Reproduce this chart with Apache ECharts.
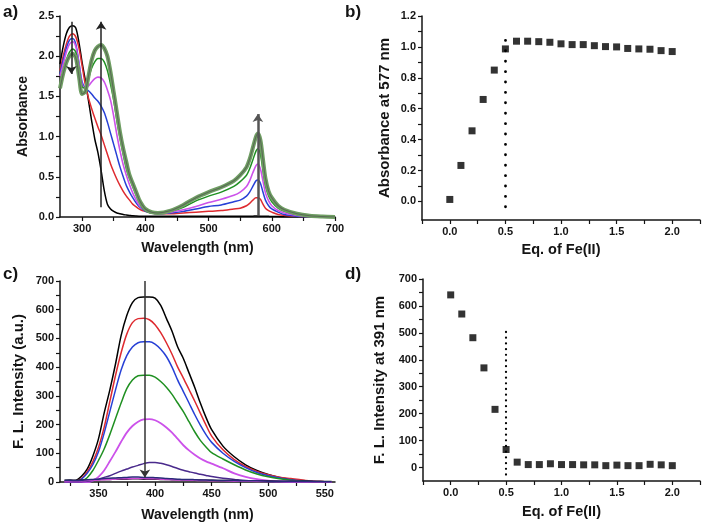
<!DOCTYPE html>
<html><head><meta charset="utf-8">
<script src="https://cdn.jsdelivr.net/npm/echarts@6/dist/echarts.min.js"></script>
<style>html,body{margin:0;padding:0;background:#fff}#c{width:704px;height:529px}</style>
</head><body><div id="c"></div>
<script>
// ---------- Panel a: UV-vis absorbance ----------
const wlA = [265,270,275,280,285,290,295,300,305,310,315,320,325,330,335,340,345,350,355,360,365,370,375,380,385,390,395,400,410,420,440,460,480,500,520,540,550,560,565,570,575,578,582,586,590,595,600,610,620,640,660,680,700];
const absBlack = [1.9,2.12,2.28,2.36,2.38,2.35,2.17,1.92,1.7,1.45,1.2,0.97,0.8,0.58,0.33,0.16,0.1,0.07,0.05,0.04,0.03,0.025,0.02,0.015,0.012,0.01,0.01,0.01,0.01,0.01,0.01,0.01,0.01,0.01,0.01,0.01,0.01,0.01,0.01,0.01,0.012,0.012,0.01,0.01,0.01,0.008,0.006,0.005,0.004,0.003,0.002,0.001,0];
const absRed = [1.82,2.0,2.15,2.25,2.28,2.24,2.1,1.88,1.65,1.48,1.35,1.23,1.12,1.02,0.9,0.78,0.66,0.56,0.47,0.39,0.32,0.26,0.21,0.16,0.13,0.1,0.08,0.07,0.05,0.04,0.04,0.05,0.06,0.07,0.08,0.1,0.11,0.14,0.17,0.21,0.24,0.24,0.22,0.16,0.11,0.08,0.06,0.03,0.02,0.01,0.005,0,0];
const absBlue = [1.78,1.95,2.1,2.2,2.22,2.15,1.92,1.68,1.6,1.57,1.53,1.48,1.44,1.38,1.3,1.18,1.04,0.9,0.76,0.62,0.5,0.39,0.31,0.24,0.18,0.13,0.1,0.07,0.05,0.04,0.05,0.07,0.1,0.13,0.15,0.19,0.21,0.26,0.31,0.38,0.45,0.46,0.42,0.31,0.21,0.14,0.1,0.06,0.03,0.01,0.003,0,0];
const absMagenta = [1.75,1.9,2.05,2.15,2.18,2.12,1.9,1.65,1.6,1.63,1.68,1.72,1.74,1.73,1.68,1.58,1.45,1.25,1.02,0.82,0.65,0.52,0.4,0.3,0.22,0.15,0.11,0.08,0.05,0.04,0.06,0.09,0.13,0.18,0.22,0.27,0.31,0.38,0.45,0.55,0.64,0.66,0.6,0.45,0.3,0.2,0.14,0.08,0.05,0.02,0.005,0,0];
const absGreen = [1.65,1.8,1.95,2.05,2.09,2.05,1.85,1.62,1.6,1.72,1.85,1.93,1.97,1.97,1.93,1.82,1.65,1.45,1.2,0.98,0.78,0.6,0.48,0.38,0.28,0.19,0.12,0.08,0.05,0.05,0.07,0.12,0.2,0.26,0.31,0.38,0.44,0.52,0.6,0.71,0.82,0.85,0.78,0.58,0.39,0.26,0.19,0.11,0.07,0.03,0.01,0,0];
const absSat = [1.6,1.78,1.92,2.0,2.03,1.98,1.75,1.53,1.56,1.75,1.95,2.07,2.12,2.14,2.1,2.0,1.8,1.55,1.3,1.05,0.85,0.68,0.52,0.42,0.32,0.22,0.15,0.1,0.06,0.05,0.08,0.15,0.24,0.31,0.37,0.45,0.52,0.62,0.72,0.86,1.0,1.04,0.96,0.72,0.48,0.32,0.24,0.14,0.09,0.04,0.015,0.005,0];
// arrows: [wavelength, from, to]
const arrowsA = [[283, 2.43, 1.78], [330, 0.12, 2.43], [578, 0.02, 1.28]];
const aXTicks = [300,350,400,450,500,550,600,650,700];
const aXLabels = [300,400,500,600,700];
const aYTicks = [0,0.25,0.5,0.75,1,1.25,1.5,1.75,2,2.25,2.5];
const aYLabels = [0,0.5,1,1.5,2,2.5];

// ---------- Panel b / d: titration ----------
const eqFe = [0,0.1,0.2,0.3,0.4,0.5,0.6,0.7,0.8,0.9,1.0,1.1,1.2,1.3,1.4,1.5,1.6,1.7,1.8,1.9,2.0];
const abs577 = [0.013,0.233,0.457,0.66,0.85,0.987,1.037,1.037,1.034,1.03,1.02,1.015,1.015,1.008,1.002,1.0,0.99,0.987,0.985,0.976,0.97];
const fl391 = [641,570,482,370,216,67,20,11,11,14,11,11,10,10,7,9,7,7,12,10,7];
const bDivider = [0.5, -0.035, 1.085];
const dDivider = [0.5, -26, 508];
const eqTicks = [-0.25,0,0.25,0.5,0.75,1,1.25,1.5,1.75,2,2.25];
const eqLabels = [0,0.5,1,1.5,2];
const bYTicks = [0,0.1,0.2,0.3,0.4,0.5,0.6,0.7,0.8,0.9,1.0,1.1,1.2];
const bYLabels = [0,0.2,0.4,0.6,0.8,1.0,1.2];
const flTicks = [0,50,100,150,200,250,300,350,400,450,500,550,600,650,700];
const flLabels = [0,100,200,300,400,500,600,700];

// ---------- Panel c: fluorescence ----------
const wlC = [320,325,330,335,340,345,350,355,360,365,370,375,380,385,390,395,400,405,410,415,420,425,430,435,440,445,450,460,470,480,490,500,510,520,530,540,550,556];
const flBlack = [0,1,5,20,45,90,150,240,320,410,510,580,625,642,644,644,640,615,570,525,470,430,380,330,275,225,182,125,88,60,40,26,16,9,5,2,1,0];
const flRed = [0,1,3,12,35,70,120,190,280,370,450,515,555,569,570,565,548,520,485,445,400,362,322,282,240,198,160,112,78,54,37,25,17,12,7,3,1,0];
const flBlue = [0,0,2,10,30,60,105,170,245,320,390,440,470,485,488,488,480,462,437,400,355,315,275,235,198,165,138,100,72,50,33,22,14,8,4,2,0,0];
const flGreen = [0,0,0,3,15,40,75,115,165,220,275,325,355,370,372,372,365,350,330,305,275,245,210,175,145,122,102,80,60,42,28,18,11,6,3,1,0,0];
const flMagenta = [0,0,0,0,0,5,18,40,72,105,140,172,195,210,218,219,215,205,190,172,150,128,110,95,82,72,64,48,30,18,10,5,2,0,0,0,0,0];
const flPurple = [0,0,0,0,2,5,10,16,22,30,38,45,52,58,64,68,68,65,60,54,47,41,36,31,27,23,19,13,9,5,3,1,0,0,0,0,0,0];
const flLowNavy = [5,6,5,6,8,9,10,12,13,14,15,16,17,17,16,16,15,14,12,11,10,9,9,8,7,7,6,5,5,4,4,3,3,3,2,2,1,1];
const flLowPink = [3,4,4,4,5,6,7,8,9,10,11,11,12,12,12,11,11,10,9,8,7,7,6,6,5,5,4,4,3,3,2,2,2,2,1,1,1,0];
const flLowBlack = [6,7,6,7,7,8,8,9,9,10,10,10,11,11,10,10,10,9,9,8,8,8,7,7,7,6,6,5,5,4,4,4,3,3,3,2,2,2];
const arrowC = [391, 700, 16];
const cXTicks = [325,350,375,400,425,450,475,500,525,550];
const cXLabels = [350,400,450,500,550];

// ---------- build ----------
const FF = '"Liberation Sans", Arial, Helvetica, sans-serif';
const TXT = '#141414';
const zip = (xs, ys) => xs.map((x, i) => [x, ys[i]]);

function axis(gi, min, max, ticks, labels, name, gap, nameSize, dec) {
  return {
    type: 'value', gridIndex: gi, min: min, max: max,
    name: name, nameLocation: 'middle', nameGap: gap,
    nameTextStyle: {fontWeight: 'bold', fontSize: nameSize, color: TXT, fontFamily: FF},
    axisLine: {show: true, onZero: false, lineStyle: {color: TXT, width: 1.5}},
    axisTick: {show: true, inside: false, length: 4, customValues: ticks, lineStyle: {color: TXT, width: 1.2}},
    axisLabel: {customValues: labels, fontWeight: 'bold', fontSize: 11, color: TXT, fontFamily: FF, margin: 6,
      formatter: v => dec ? Number(v).toFixed(1) : String(Math.round(v))},
    splitLine: {show: false}
  };
}

function line(xi, data, color, width) {
  return {type: 'line', xAxisIndex: xi, yAxisIndex: xi, data: data, showSymbol: false, symbol: 'none',
    smooth: 0.3, lineStyle: {color: color, width: width}, itemStyle: {color: color}, silent: true, z: 2};
}

const arrowStyle = (c, w) => ({color: c, width: w, type: 'solid'});

const series = [
  line(0, zip(wlA, absBlack), '#000000', 1.5),
  line(0, zip(wlA, absRed), '#de2a2f', 1.5),
  line(0, zip(wlA, absBlue), '#2740d6', 1.5),
  line(0, zip(wlA, absMagenta), '#cc52ea', 1.6),
  line(0, zip(wlA, absGreen), '#1f9021', 1.5),
  line(0, zip(wlA, absSat), '#6f9e63', 4),
  Object.assign(line(0, zip(wlA, absSat), '#5a6b56', 1.1), {
    markLine: {silent: true, symbol: ['none', 'arrow'], symbolSize: 8, label: {show: false},
      emphasis: {disabled: true}, animation: false,
      data: [
        [{coord: [arrowsA[0][0], arrowsA[0][1]], lineStyle: arrowStyle('#222', 1.5)}, {coord: [arrowsA[0][0], arrowsA[0][2]]}],
        [{coord: [arrowsA[1][0], arrowsA[1][1]], lineStyle: arrowStyle('#222', 1.5)}, {coord: [arrowsA[1][0], arrowsA[1][2]]}],
        [{coord: [arrowsA[2][0], arrowsA[2][1]], lineStyle: arrowStyle('#555', 2.5)}, {coord: [arrowsA[2][0], arrowsA[2][2]]}]
      ]}
  }),
  {type: 'scatter', xAxisIndex: 1, yAxisIndex: 1, data: zip(eqFe, abs577), symbol: 'rect', symbolSize: 7,
    itemStyle: {color: '#000'}, silent: true,
    markLine: {silent: true, symbol: ['none', 'none'], label: {show: false}, emphasis: {disabled: true}, animation: false,
      lineStyle: {color: '#000', width: 2.8, type: [0.1, 10.3], cap: 'round'},
      data: [[{coord: [bDivider[0], bDivider[1]]}, {coord: [bDivider[0], bDivider[2]]}]]}},
  line(2, zip(wlC, flBlack), '#000000', 1.5),
  line(2, zip(wlC, flRed), '#de2a2f', 1.5),
  line(2, zip(wlC, flBlue), '#2740d6', 1.5),
  line(2, zip(wlC, flGreen), '#1f9021', 1.5),
  line(2, zip(wlC, flMagenta), '#cc52ea', 1.8),
  line(2, zip(wlC, flPurple), '#4a2a8c', 1.5),
  line(2, zip(wlC, flLowBlack), '#111111', 1.5),
  line(2, zip(wlC, flLowPink), '#d04ad8', 1.5),
  Object.assign(line(2, zip(wlC, flLowNavy), '#2a2a7a', 1.5), {
    markLine: {silent: true, symbol: ['none', 'arrow'], symbolSize: 8, label: {show: false},
      emphasis: {disabled: true}, animation: false, lineStyle: arrowStyle('#333', 1.5),
      data: [[{coord: [arrowC[0], arrowC[1]]}, {coord: [arrowC[0], arrowC[2]]}]]}
  }),
  {type: 'scatter', xAxisIndex: 3, yAxisIndex: 3, data: zip(eqFe, fl391), symbol: 'rect', symbolSize: 7,
    itemStyle: {color: '#000'}, silent: true,
    markLine: {silent: true, symbol: ['none', 'none'], label: {show: false}, emphasis: {disabled: true}, animation: false,
      lineStyle: {color: '#000', width: 2.2, type: [0.1, 5.6], cap: 'round'},
      data: [[{coord: [dDivider[0], dDivider[1]]}, {coord: [dDivider[0], dDivider[2]]}]]}}
];

const panelLabel = (t, x, y) => ({type: 'text', left: x, top: y,
  style: {text: t, fill: TXT, font: 'bold 17px ' + FF}});

const chart = echarts.init(document.getElementById('c'), null, {renderer: 'canvas'});
chart.setOption({
  animation: false,
  backgroundColor: '#fff',
  grid: [
    {left: 60, top: 16, width: 275, height: 201},
    {left: 422, top: 16, width: 278, height: 204},
    {left: 60, top: 281, width: 275, height: 201},
    {left: 423, top: 279, width: 277, height: 202}
  ],
  xAxis: [
    axis(0, 265, 700, aXTicks, aXLabels, 'Wavelength (nm)', 24, 14, false),
    axis(1, -0.25, 2.25, eqTicks, eqLabels, 'Eq. of Fe(II)', 22, 14.5, true),
    axis(2, 316, 559, cXTicks, cXLabels, 'Wavelength (nm)', 26, 14, false),
    axis(3, -0.25, 2.25, eqTicks, eqLabels, 'Eq. of Fe(II)', 23, 14.5, true)
  ],
  yAxis: [
    axis(0, 0, 2.5, aYTicks, aYLabels, 'Absorbance', 30, 14, true),
    axis(1, -0.12, 1.2, bYTicks, bYLabels, 'Absorbance at 577 nm', 30, 15, true),
    axis(2, 0, 700, flTicks, flLabels, 'F. L. Intensity (a.u.)', 34, 15, false),
    axis(3, -50, 700, flTicks, flLabels, 'F. L. Intensity at 391 nm', 36, 15, false)
  ],
  series: series,
  graphic: [
    panelLabel('a)', 3, 4),
    panelLabel('b)', 345, 4),
    panelLabel('c)', 3, 266),
    panelLabel('d)', 345, 266)
  ]
});
</script>
</body></html>
